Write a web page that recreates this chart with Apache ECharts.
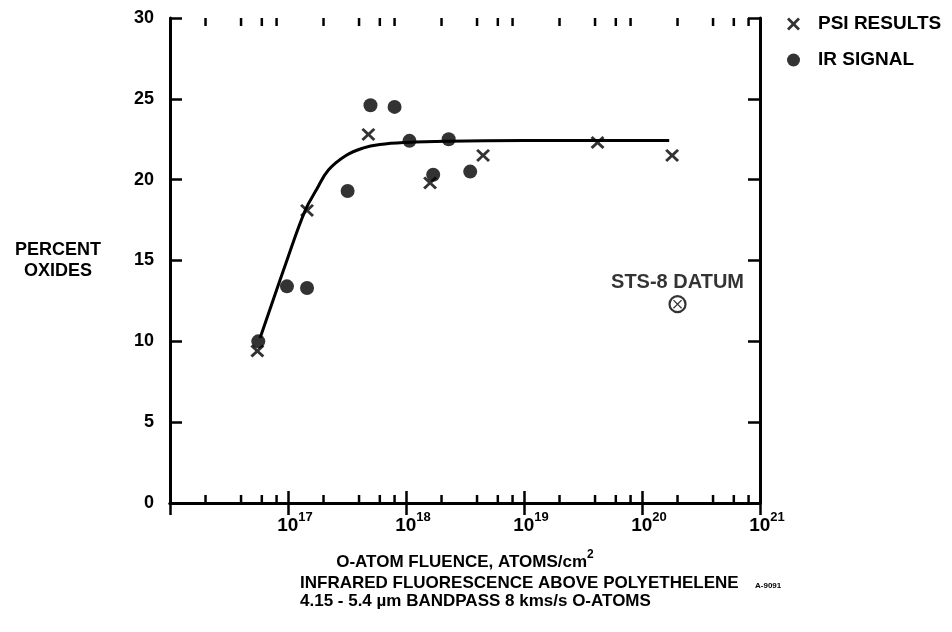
<!DOCTYPE html>
<html><head><meta charset="utf-8">
<script src="https://cdn.jsdelivr.net/npm/echarts@6/dist/echarts.min.js"></script>
<style>html,body{margin:0;padding:0;background:#fff}#c{width:952px;height:632px}</style>
</head><body><div id="c"></div>
<script>
// ---- data ----
const psiX = [5.5e16, 1.45e17, 4.8e17, 1.6e18, 4.5e18, 4.2e19, 1.8e20];
const psiY = [9.4, 18.1, 22.8, 19.8, 21.5, 22.3, 21.5];
const irX = [5.6e16, 9.8e16, 1.45e17, 3.2e17, 5.0e17, 8.0e17, 1.07e18, 1.7e18, 2.3e18, 3.5e18];
const irY = [10.0, 13.4, 13.3, 19.3, 24.6, 24.5, 22.4, 20.3, 22.5, 20.5];
const fitX = [5.8e16, 1.0e17, 1.4e17, 1.75e17, 2.2e17, 3.1e17, 4.3e17, 6e17, 1e18, 2.2e18, 1e19, 1.7e20];
const fitY = [10.2, 15.2, 18.1, 19.4, 20.6, 21.5, 21.95, 22.17, 22.3, 22.38, 22.42, 22.42];
const stsX = [2.0e20];
const stsY = [12.3];
const decades = [1e16, 1e17, 1e18, 1e19, 1e20];
const minorMult = [2, 4, 6, 8];
const yMin = 0, yMax = 30, yStep = 5;
const xMin = 1e16, xMax = 1e21;

const FONT = '"Liberation Sans", Arial, Helvetica, sans-serif';
const xPath = 'path://M0,1.5L1.5,0L5,3.5L8.5,0L10,1.5L6.5,5L10,8.5L8.5,10L5,6.5L1.5,10L0,8.5L3.5,5Z';
const xPathThin = 'path://M0,1L1,0L5,4L9,0L10,1L6,5L10,9L9,10L5,6L1,10L0,9L4,5Z';

const minorTicks = [];
decades.forEach(d => minorMult.forEach(m => minorTicks.push([m * d, 0])));

const zip = (a, b) => a.map((v, i) => [v, b[i]]);

const chart = echarts.init(document.getElementById('c'), null, {renderer: 'canvas'});
const axisLine = {show: true, lineStyle: {color: '#000', width: 3}};
const option = {
  backgroundColor: '#fff',
  animation: false,
  textStyle: {fontFamily: FONT},
  grid: {left: 170, right: 192, top: 18, bottom: 129, containLabel: false, outerBoundsMode: 'none'},
  legend: {
    orient: 'vertical', left: 782, top: 8, itemGap: 14,
    itemWidth: 13, itemHeight: 13,
    data: [{name: 'PSI RESULTS', icon: xPath}, {name: 'IR SIGNAL', icon: 'circle'}],
    textStyle: {fontFamily: FONT, fontWeight: 'bold', fontSize: 19, lineHeight: 22, color: '#000', padding: [0, 0, 0, 13]}
  },
  xAxis: [{
    type: 'log', logBase: 10, min: xMin, max: xMax, position: 'bottom',
    axisLine: axisLine,
    axisTick: {show: true, inside: true, length: 12, lineStyle: {color: '#000', width: 2.5}},
    splitLine: {show: false}, minorTick: {show: false},
    axisLabel: {
      show: true, margin: 8, color: '#000',
      formatter: v => {
        const e = Math.round(Math.log10(v));
        return e <= 16 ? '' : '{b|10}{s|' + e + '}';
      },
      rich: {
        b: {fontFamily: FONT, fontWeight: 'bold', fontSize: 19, lineHeight: 24, verticalAlign: 'bottom', padding: [0, 0, 0, 14]},
        s: {fontFamily: FONT, fontWeight: 'bold', fontSize: 13, lineHeight: 24, verticalAlign: 'top'}
      }
    },
    name: '{a|O-ATOM FLUENCE, ATOMS/cm}{s|2}', nameLocation: 'middle', nameGap: 46,
    nameTextStyle: {
      rich: {
        a: {fontFamily: FONT, fontWeight: 'bold', fontSize: 17, color: '#000', lineHeight: 22, verticalAlign: 'bottom'},
        s: {fontFamily: FONT, fontWeight: 'bold', fontSize: 12, color: '#000', lineHeight: 22, verticalAlign: 'top'}
      }
    }
  }, {
    type: 'log', logBase: 10, min: xMin, max: xMax, position: 'top',
    axisLine: axisLine,
    axisTick: {show: true, inside: true, length: 12, lineStyle: {color: '#000', width: 2.5}},
    axisLabel: {show: false}, splitLine: {show: false}
  }],
  yAxis: [{
    type: 'value', min: yMin, max: yMax, interval: yStep, position: 'left',
    axisLine: axisLine,
    axisTick: {show: true, inside: true, length: 12, lineStyle: {color: '#000', width: 2.5}},
    splitLine: {show: false},
    axisLabel: {color: '#000', fontFamily: FONT, fontWeight: 'bold', fontSize: 18, margin: 16},
    name: 'PERCENT\nOXIDES', nameLocation: 'middle', nameRotate: 0, nameGap: 112,
    nameTextStyle: {fontFamily: FONT, fontWeight: 'bold', fontSize: 18, color: '#000', lineHeight: 21, align: 'center', verticalAlign: 'middle'}
  }, {
    type: 'value', min: yMin, max: yMax, interval: yStep, position: 'right',
    axisLine: axisLine,
    axisTick: {show: true, inside: true, length: 12, lineStyle: {color: '#000', width: 2.5}},
    splitLine: {show: false}, axisLabel: {show: false}
  }],
  graphic: [
    {type: 'text', left: 300, top: 575, style: {text: 'INFRARED FLUORESCENCE ABOVE POLYETHELENE', font: 'bold 17px ' + FONT, fill: '#000'}},
    {type: 'text', left: 300, top: 593, style: {text: '4.15 - 5.4 µm BANDPASS 8 kms/s O-ATOMS', font: 'bold 17px ' + FONT, fill: '#000'}},
    {type: 'text', left: 755, top: 582, style: {text: 'A-9091', font: 'bold 8px ' + FONT, fill: '#000'}}
  ],
  series: [
    {
      type: 'custom', name: 'minor', xAxisIndex: 0, yAxisIndex: 0, silent: true, clip: false,
      data: minorTicks,
      renderItem: (params, api) => {
        const v = api.value(0);
        const b = api.coord([v, yMin]);
        const t = api.coord([v, yMax]);
        return {type: 'group', children: [
          {type: 'line', shape: {x1: b[0], y1: b[1], x2: b[0], y2: b[1] - 8}, style: {stroke: '#000', lineWidth: 2.5}},
          {type: 'line', shape: {x1: t[0], y1: t[1], x2: t[0], y2: t[1] + 8}, style: {stroke: '#000', lineWidth: 2.5}}
        ]};
      }
    },
    {
      type: 'line', name: 'fit', data: zip(fitX, fitY), smooth: 0.4, symbol: 'none',
      lineStyle: {color: '#000', width: 3}, z: 3
    },
    {
      type: 'scatter', name: 'IR SIGNAL', data: zip(irX, irY), symbol: 'circle', symbolSize: 14,
      itemStyle: {color: '#000'}, z: 4
    },
    {
      type: 'scatter', name: 'PSI RESULTS', data: zip(psiX, psiY), symbol: xPath, symbolSize: [14, 13],
      itemStyle: {color: '#000'}, z: 5
    },
    {
      type: 'scatter', name: 'STS-8', data: zip(stsX, stsY), symbol: 'circle', symbolSize: 16,
      itemStyle: {color: '#fff', borderColor: '#000', borderWidth: 2.2}, z: 4,
      label: {show: true, position: 'top', distance: 3, formatter: 'STS-8 DATUM', color: '#000',
        fontFamily: FONT, fontWeight: 'bold', fontSize: 20}
    },
    {
      type: 'scatter', name: 'STS-8x', data: zip(stsX, stsY), symbol: xPathThin, symbolSize: 9,
      itemStyle: {color: '#000'}, z: 5
    }
  ]
};
chart.setOption(option);
</script>
</body></html>
